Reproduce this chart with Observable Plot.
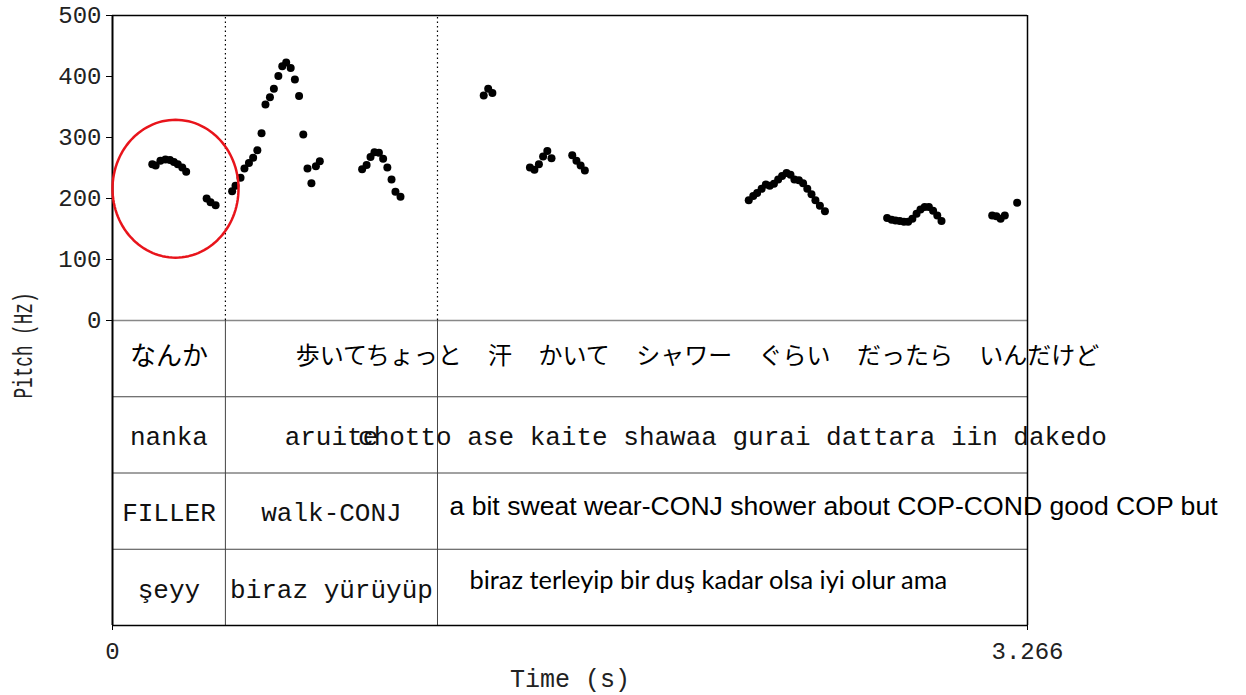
<!DOCTYPE html>
<html>
<head>
<meta charset="utf-8">
<script src="https://cdn.jsdelivr.net/npm/d3@7"></script>
<script src="https://cdn.jsdelivr.net/npm/@observablehq/plot@0.6"></script>
<style>
  html, body { margin: 0; padding: 0; background: #fff; }
  #chart svg { display: block; }
</style>
</head>
<body>
<div id="chart"></div>
<script>
// ---- Data ----
const duration = 3.266;

// pitch track (time in s, pitch in Hz)
const pitchTime = [
  0.142, 0.154, 0.171, 0.189, 0.205, 0.219, 0.233, 0.249, 0.263, 0.336, 0.350, 0.368,
  0.427, 0.439, 0.457, 0.471, 0.487, 0.502, 0.517, 0.532, 0.546, 0.562, 0.576, 0.592, 0.606, 0.620, 0.636, 0.651, 0.666, 0.681, 0.696, 0.710, 0.726, 0.740,
  0.891, 0.907, 0.921, 0.935, 0.951, 0.966, 0.981, 0.996, 1.010, 1.028,
  1.325, 1.341, 1.356,
  1.490, 1.506, 1.522, 1.537, 1.552, 1.567, 1.641, 1.656, 1.671, 1.686,
  2.271, 2.287, 2.301, 2.317, 2.332, 2.346, 2.361, 2.376, 2.390, 2.406, 2.420, 2.434, 2.450, 2.465, 2.480, 2.495, 2.509, 2.525, 2.543,
  2.765, 2.781, 2.795, 2.810, 2.825, 2.840, 2.855, 2.870, 2.884, 2.899, 2.914, 2.929, 2.944, 2.959,
  3.140, 3.155, 3.170, 3.185, 3.229
];
const pitchHz = [
  256, 254, 262, 264, 263, 260, 256, 251, 244, 200, 194, 189,
  212, 221, 234, 249, 258, 267, 279, 307, 354, 366, 380, 401, 417, 423, 414, 395, 368, 305, 249, 225, 253, 261,
  248, 255, 268, 276, 275, 265, 251, 231, 211, 203,
  369, 380, 373,
  251, 247, 256, 269, 278, 266, 271, 262, 254, 246,
  197, 204, 209, 216, 223, 221, 224, 231, 237, 242, 239, 231, 230, 225, 216, 207, 197, 188, 179,
  168, 165, 164, 163, 162, 162, 167, 175, 182, 186, 186, 180, 172, 163,
  172, 171, 167, 172, 193
];

// interval boundaries (s)
const boundaries = [0.403, 1.160];

// annotation tiers: tier index, interval start, interval end, label
const tierIndex = [0, 0, 0, 1, 1, 1, 2, 2, 3, 3];
const tierStart = [0, 0.403, 1.160, 0, 0.403, 1.160, 0, 0.403, 0, 0.403];
const tierEnd   = [0.403, 1.160, duration, 0.403, 1.160, duration, 0.403, 1.160, 0.403, 1.160];
const tierLabel = [
  "なんか", "歩いて", "ちょっと 汗 かいて シャワー ぐらい だったら いんだけど",
  "nanka", "aruite", "chotto ase kaite shawaa gurai dattara iin dakedo",
  "FILLER", "walk-CONJ",
  "şeyy", "biraz yürüyüp"
];
// free translations written from the start of the last interval
const glossLabel = "a bit sweat wear-CONJ shower about COP-COND good COP but";
const turkishLabel = "biraz terleyip bir duş kadar olsa iyi olur ama";

// highlighted region (ellipse): centre time, centre Hz, radius in s, radius in Hz
const ellipseCentre = [0.2249, 216];
const ellipseRadius = [0.2249, 113];

const yTicks = [0, 100, 200, 300, 400, 500];
const xTicks = [0, duration];
const tierHeight = 125; // y units per tier row (tiers sit below 0 Hz)

// ---- derived tables ----
const pitch = pitchTime.map((t, i) => ({t, hz: pitchHz[i]}));
const tiers = tierLabel.map((label, i) => ({
  tier: tierIndex[i],
  first: i === 0,
  mid: (tierStart[i] + tierEnd[i]) / 2,
  yc: -(tierIndex[i] + 0.5) * tierHeight,
  label
}));
const ellipse = d3.range(0, 361, 3).map(a => ({
  t: ellipseCentre[0] + ellipseRadius[0] * Math.cos(a * Math.PI / 180),
  hz: ellipseCentre[1] + ellipseRadius[1] * Math.sin(a * Math.PI / 180)
}));
const tierLines = d3.range(1, 4).map(i => -i * tierHeight);

const mono = "Liberation Mono, DejaVu Sans Mono, monospace";
const cjk = "Noto Sans CJK JP, Noto Sans CJK SC, sans-serif";

const chart = Plot.plot({
  width: 1246,
  height: 695,
  marginLeft: 112,
  marginRight: 219,
  marginTop: 15,
  marginBottom: 70,
  style: {fontFamily: mono, fontSize: "24px", background: "#fff", color: "#000"},
  x: {domain: [0, duration]},
  y: {domain: [-4 * tierHeight, 500]},
  marks: [
    // tier grid
    Plot.ruleY([0], {stroke: "#888", strokeWidth: 1.5}),
    Plot.ruleY(tierLines, {stroke: "#444", strokeWidth: 1}),
    // interval boundaries
    Plot.ruleX(boundaries, {y1: -4 * tierHeight, y2: 0, stroke: "#444", strokeWidth: 1}),
    Plot.ruleX(boundaries, {y1: 0, y2: 500, stroke: "#000", strokeWidth: 1.2, strokeDasharray: "1.5,3"}),
    // frame
    Plot.ruleY([500], {stroke: "#000", strokeWidth: 1.5}),
    Plot.ruleY([-4 * tierHeight], {stroke: "#000", strokeWidth: 1.5}),
    Plot.ruleX([0], {stroke: "#000", strokeWidth: 2}),
    Plot.ruleX([duration], {stroke: "#000", strokeWidth: 1.5}),
    // axes
    Plot.axisY({ticks: yTicks, tickSize: 6, tickPadding: 5, label: null, fontSize: 24, fontFamily: mono, fill: "#222"}),
    Plot.axisX({ticks: xTicks, tickFormat: d => d === 0 ? "0" : d3.format(".3f")(d), tickSize: 5, tickPadding: 11, label: null, fontSize: 24, fontFamily: mono, fill: "#222"}),
    Plot.text(["Pitch (Hz)"], {frameAnchor: "left", textAnchor: "middle", dx: -89, dy: 25, rotate: -90, fontSize: 28, fontFamily: mono, fill: "#222"}),
    Plot.text(["Time (s)"], {frameAnchor: "bottom", dy: 61, fontSize: 25, fontFamily: mono, fill: "#222"}),
    // pitch track
    Plot.dot(pitch, {x: "t", y: "hz", r: 4, fill: "#000", stroke: "none"}),
    // highlight ellipse
    Plot.line(ellipse, {x: "t", y: "hz", stroke: "#e8141b", strokeWidth: 2.5, curve: "linear"}),
    // tier labels
    Plot.text(tiers.filter(d => d.first), {x: "mid", y: "yc", text: "label", fontSize: 26, fontFamily: cjk, dy: -2}),
    Plot.text(tiers.filter(d => d.tier === 0 && !d.first), {x: "mid", y: "yc", text: "label", fontSize: 24, fontFamily: cjk, dy: -2}),
    Plot.text(tiers.filter(d => d.tier > 0), {x: "mid", y: "yc", text: "label", fontSize: 26, fontFamily: mono, dy: 2, fill: "#111"}),
    Plot.text([glossLabel], {x: boundaries[1], y: -2.5 * tierHeight, dx: 12, dy: -5, textAnchor: "start", fontSize: 26.6, fontFamily: "Liberation Sans, Arial, sans-serif"}),
    Plot.text([turkishLabel], {x: boundaries[1], y: -3.5 * tierHeight, dx: 32, dy: -7, textAnchor: "start", fontSize: 25.4, fontFamily: "Lato, Open Sans, sans-serif"})
  ]
});
// typographic adjustments to match the reference
const texts = d3.select(chart).selectAll("text");
texts.filter(function() { return this.textContent === tierLabel[2]; })
  .style("word-spacing", "21px");
texts.filter(function() { return this.textContent === "Pitch (Hz)"; })
  .attr("textLength", 106).attr("lengthAdjust", "spacingAndGlyphs");
document.getElementById("chart").appendChild(chart);
</script>
</body>
</html>
